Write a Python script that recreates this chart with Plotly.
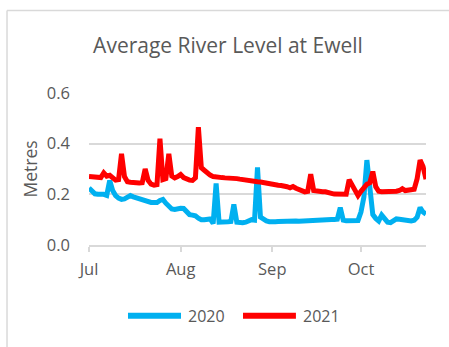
import pandas as pd
import plotly.graph_objects as go

# Daily average river level (metres), 1 July to 23 October
start_date = "2021-07-01"
level_2020 = [
    0.225, 0.210, 0.202, 0.200, 0.201, 0.200, 0.196, 0.255, 0.215, 0.195,
    0.185, 0.180, 0.182, 0.190, 0.195, 0.190, 0.186, 0.183, 0.180, 0.175,
    0.170, 0.168, 0.168, 0.168, 0.176, 0.180, 0.165, 0.155, 0.142, 0.140,
    0.145, 0.145, 0.144, 0.130, 0.120, 0.118, 0.115, 0.106, 0.100, 0.100,
    0.101, 0.103, 0.085, 0.243, 0.090, 0.092, 0.092, 0.092, 0.093, 0.160,
    0.090, 0.088, 0.088, 0.090, 0.095, 0.100, 0.098, 0.306, 0.110, 0.100,
    0.095, 0.092, 0.090, 0.092, 0.093, 0.094, 0.094, 0.094, 0.095, 0.098,
    0.095, 0.094, 0.095, 0.096, 0.096, 0.097, 0.098, 0.098, 0.099, 0.099,
    0.100, 0.100, 0.101, 0.101, 0.102, 0.148, 0.098, 0.096, 0.095, 0.095,
    0.095, 0.097, 0.130, 0.190, 0.335, 0.220, 0.120, 0.105, 0.095, 0.118,
    0.100, 0.090, 0.088, 0.095, 0.103, 0.102, 0.100, 0.098, 0.095, 0.095,
    0.098, 0.110, 0.148, 0.130, 0.122,
]
level_2021 = [
    0.270, 0.270, 0.270, 0.268, 0.266, 0.285, 0.272, 0.275, 0.265, 0.256,
    0.258, 0.360, 0.270, 0.250, 0.248, 0.246, 0.245, 0.245, 0.246, 0.300,
    0.255, 0.240, 0.236, 0.238, 0.420, 0.258, 0.262, 0.360, 0.272, 0.265,
    0.270, 0.278, 0.266, 0.260, 0.256, 0.255, 0.265, 0.465, 0.305, 0.295,
    0.283, 0.276, 0.270, 0.267, 0.266, 0.266, 0.265, 0.265, 0.264, 0.263,
    0.262, 0.260, 0.258, 0.255, 0.252, 0.252, 0.251, 0.250, 0.249, 0.246,
    0.244, 0.241, 0.238, 0.236, 0.236, 0.235, 0.234, 0.230, 0.226, 0.231,
    0.224, 0.220, 0.214, 0.210, 0.212, 0.280, 0.215, 0.212, 0.211, 0.210,
    0.210, 0.209, 0.204, 0.201, 0.200, 0.201, 0.200, 0.200, 0.258, 0.240,
    0.222, 0.195, 0.212, 0.228, 0.240, 0.246, 0.290, 0.230, 0.212, 0.210,
    0.210, 0.210, 0.211, 0.211, 0.212, 0.215, 0.222, 0.215, 0.216, 0.218,
    0.220, 0.262, 0.335, 0.310, 0.260,
]
series_names = ["2020", "2021"]
series_colors = ["#00B0F0", "#FF0000"]
month_ticks = ["2021-07-01", "2021-08-01", "2021-09-01", "2021-10-01"]
month_labels = ["Jul", "Aug", "Sep", "Oct"]
y_ticks = [0.0, 0.2, 0.4, 0.6]

dates = pd.date_range(start_date, periods=len(level_2020), freq="D")

FONT = "Open Sans"
TEXT = "#595959"
GRID = "#D9D9D9"

fig = go.Figure()
for name, values, color in zip(series_names, [level_2020, level_2021], series_colors):
    fig.add_trace(go.Scatter(
        x=dates, y=values, mode="lines", name=name,
        line=dict(color=color, width=5), showlegend=False,
    ))

# Chart-area frame (left and top edges visible)
fig.add_shape(type="line", xref="paper", yref="paper",
              x0=-0.2433, x1=-0.2433, y0=1.543, y1=-0.72,
              line=dict(color=GRID, width=1.5))
fig.add_shape(type="line", xref="paper", yref="paper",
              x0=-0.2433, x1=1.1, y0=1.543, y1=1.543,
              line=dict(color=GRID, width=1.5))

# Legend drawn below the axis
legend_x = [(0.1157, 0.273, 0.288), (0.457, 0.614, 0.629)]
for (xa, xb, xt), name, color in zip(legend_x, series_names, series_colors):
    fig.add_shape(type="line", xref="paper", yref="paper",
                  x0=xa, x1=xb, y0=-0.466, y1=-0.466,
                  line=dict(color=color, width=6))
    fig.add_annotation(xref="paper", yref="paper", x=xt, y=-0.466,
                       text=name, showarrow=False, xanchor="left",
                       yanchor="middle", font=dict(family=FONT, size=16, color=TEXT))

fig.update_layout(
    width=449, height=347,
    margin=dict(l=89, r=23, t=92.7, b=102),
    paper_bgcolor="white", plot_bgcolor="white",
    font=dict(family=FONT, color=TEXT),
    title=dict(text="Average River Level at Ewell", x=228 / 449, xanchor="center",
               y=1 - 46 / 347, yanchor="middle", yref="container",
               font=dict(family=FONT, size=21, color=TEXT)),
)
fig.update_xaxes(
    range=[dates[0], dates[-1]],
    tickvals=month_ticks, ticktext=month_labels,
    ticks="outside", ticklen=5, tickcolor=GRID, tickwidth=1.5,
    showline=True, linecolor=GRID, linewidth=1.5,
    showgrid=False, zeroline=False,
    tickfont=dict(family=FONT, size=16.5, color=TEXT),
    ticklabelstandoff=3,
)
fig.update_yaxes(
    range=[0, 0.6], tickvals=y_ticks, tickformat=".1f",
    showgrid=True, gridcolor=GRID, gridwidth=1.5,
    zeroline=False, showline=False, ticks="",
    tickfont=dict(family=FONT, size=16.5, color=TEXT),
    ticklabelstandoff=18,
    title=dict(text="Metres", font=dict(family=FONT, size=17.5, color=TEXT), standoff=4),
)

fig.write_html("out.html")
